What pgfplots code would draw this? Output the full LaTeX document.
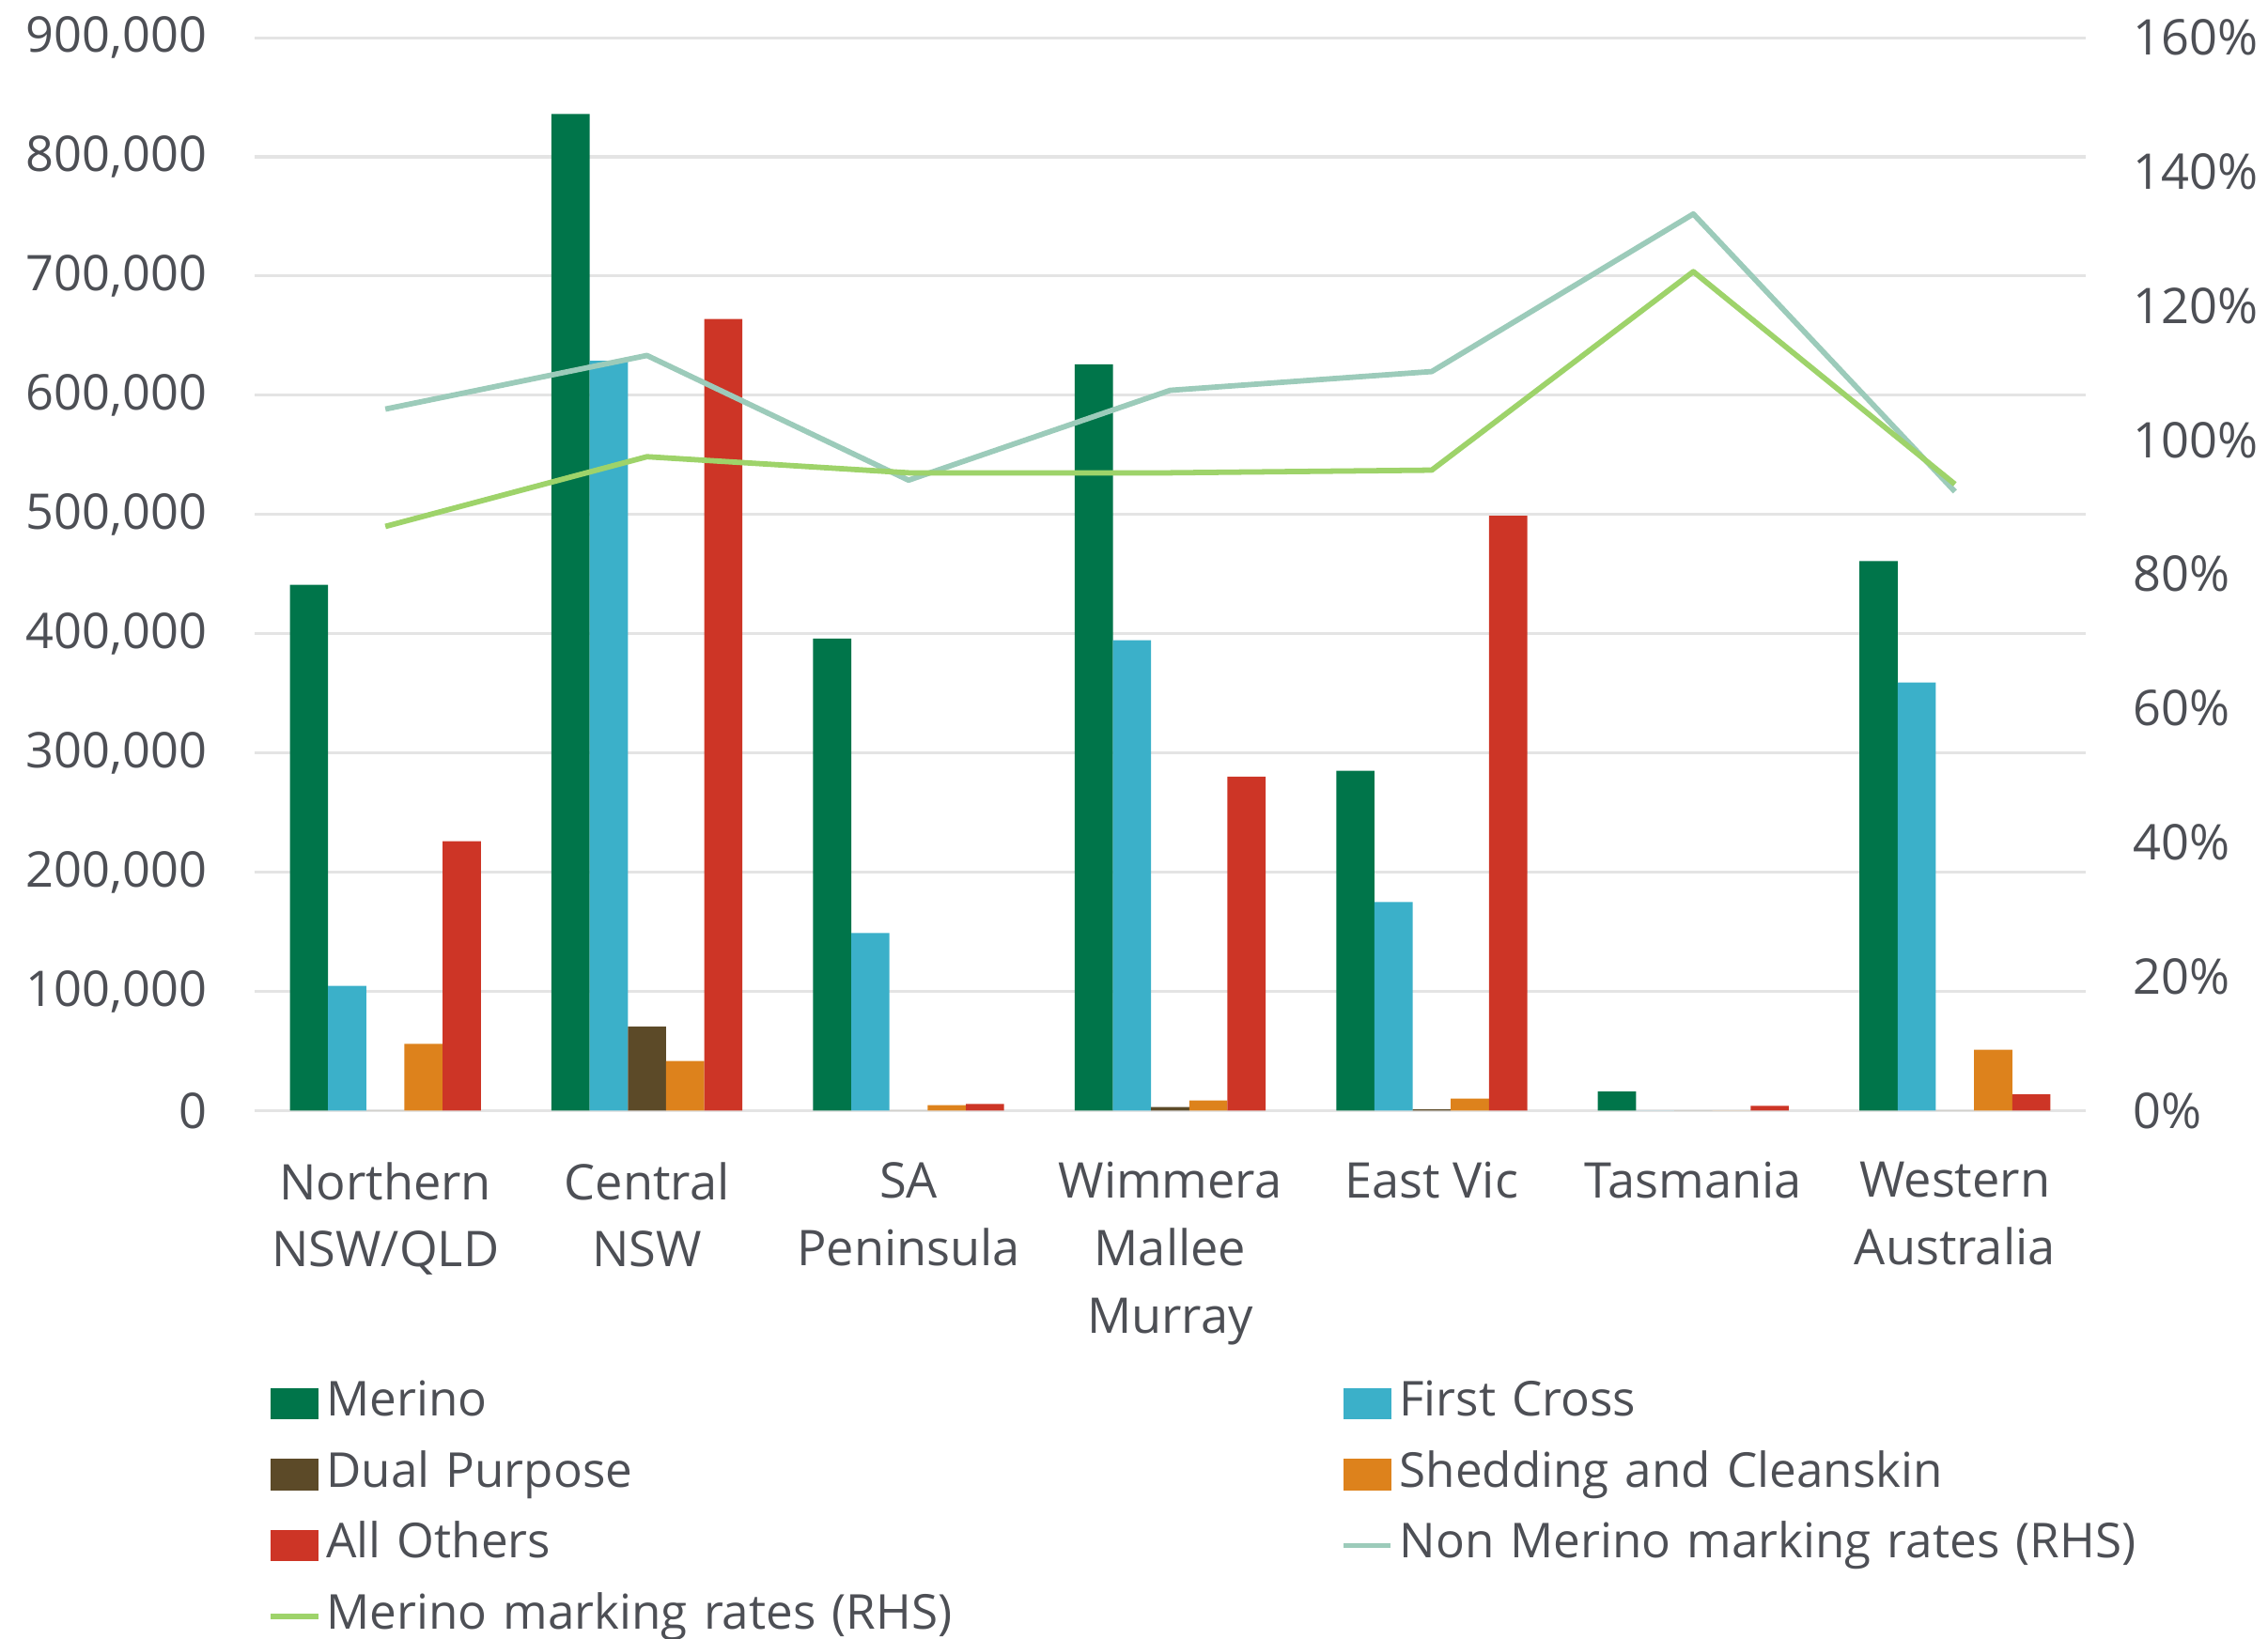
\documentclass[border=0pt]{standalone}
\usepackage{fontspec}
\setmainfont{Open Sans}
\usepackage{pgfplots}
\pgfplotsset{compat=1.18}
\definecolor{cMer}{HTML}{00754A}
\definecolor{cFC}{HTML}{3BB0C9}
\definecolor{cDual}{HTML}{5C4A28}
\definecolor{cShed}{HTML}{DD821C}
\definecolor{cOth}{HTML}{CD3526}
\definecolor{cNon}{HTML}{9CCBBA}
\definecolor{cMerL}{HTML}{9ED36A}
\definecolor{gridgray}{HTML}{E4E4E4}
\definecolor{labgray}{HTML}{4D4F55}
\begin{document}
\begin{tikzpicture}
\pgfplotsset{
  common/.style={
    width=506.4pt, height=296.8pt, scale only axis,
    at={(0,0)}, anchor=south west,
    xmin=-0.5, xmax=6.5,
    axis line style={draw=none}, tick style={draw=none}, major tick length=0pt,
    /pgf/number format/assume math mode=true,
    tick label style={font=\fontsize{13.6}{18.6}\selectfont, text=labgray},
  },
}
\begin{axis}[common,
  ymin=0, ymax=900000, ytick={0,100000,...,900000}, scaled y ticks=false,
  yticklabel style={/pgf/number format/fixed, /pgf/number format/1000 sep={,}, xshift=-9.7pt},
  ymajorgrids, grid style={draw=gridgray, line width=0.8pt},
  xtick={0,...,6},
  xticklabels={{Northern\\NSW/QLD},{Central\\NSW},{SA\\Peninsula},{Wimmera\\Mallee\\Murray},{East Vic},{Tasmania},{Western\\Australia}},
  xticklabel style={align=center, yshift=-10.8pt},
  legend columns=2,
  legend style={draw=none, fill=none, inner sep=0pt, at={(0,0)}, anchor=north west,
    xshift=3.6pt, yshift=-74.4pt, column sep=0pt, row sep=6.6pt,
    font=\fontsize{13.3}{16}\selectfont, text=labgray,
    nodes={inner sep=0pt, text height=10pt, text depth=3pt},
    /tikz/every odd column/.append style={column sep=1.6pt},
    /tikz/every even column/.append style={text width=280.6pt, align=left}},
  legend cell align=left,
]
\addplot[ybar, bar width=0.146, bar shift=-0.292, fill=cMer, draw=none, forget plot]
  coordinates {(0,441000) (1,836000) (2,396000) (3,626000) (4,285000) (5,16000) (6,461000)};
\addplot[ybar, bar width=0.146, bar shift=-0.146, fill=cFC, draw=none, forget plot]
  coordinates {(0,104500) (1,629000) (2,149000) (3,394500) (4,175000) (5,0) (6,359000)};
\addplot[ybar, bar width=0.146, bar shift=0, fill=cDual, draw=none, forget plot]
  coordinates {(0,0) (1,70500) (2,0) (3,3000) (4,1000) (5,0) (6,0)};
\addplot[ybar, bar width=0.146, bar shift=0.146, fill=cShed, draw=none, forget plot]
  coordinates {(0,56000) (1,41500) (2,4500) (3,8500) (4,10000) (5,0) (6,51000)};
\addplot[ybar, bar width=0.146, bar shift=0.292, fill=cOth, draw=none, forget plot]
  coordinates {(0,226000) (1,664000) (2,5500) (3,280000) (4,499000) (5,4000) (6,13500)};
\addlegendimage{legend image code/.code={\fill[cMer] (0pt,-4.15pt) rectangle (13pt,4.15pt);}}
\addlegendentry{Merino}
\addlegendimage{legend image code/.code={\fill[cFC] (0pt,-4.15pt) rectangle (13pt,4.15pt);}}
\addlegendentry{First Cross}
\addlegendimage{legend image code/.code={\fill[cDual] (0pt,-4.15pt) rectangle (13pt,4.15pt);}}
\addlegendentry{Dual Purpose}
\addlegendimage{legend image code/.code={\fill[cShed] (0pt,-4.15pt) rectangle (13pt,4.15pt);}}
\addlegendentry{Shedding and Cleanskin}
\addlegendimage{legend image code/.code={\fill[cOth] (0pt,-4.15pt) rectangle (13pt,4.15pt);}}
\addlegendentry{All Others}
\addlegendimage{legend image code/.code={\draw[cNon, line width=1.5pt] (0pt,0pt) -- (13pt,0pt);}}
\addlegendentry{Non Merino marking rates (RHS)}
\addlegendimage{legend image code/.code={\draw[cMerL, line width=1.5pt] (0pt,0pt) -- (13pt,0pt);}}
\addlegendentry{Merino marking rates (RHS)}
\end{axis}
\begin{axis}[common,
  axis y line*=right, axis x line=none,
  ymin=0, ymax=160, ytick={0,20,...,160},
  yticklabel={\pgfmathprintnumber{\tick}\%},
  yticklabel style={anchor=west, xshift=9.7pt},
  xtick=\empty,
]
\addplot[sharp plot, cNon, line width=1.5pt, line join=round, no markers]
  coordinates {(0,104.6) (1,112.6) (2,94.0) (3,107.4) (4,110.2) (5,133.7) (6,92.3)};
\addplot[sharp plot, cMerL, line width=1.5pt, line join=round, no markers]
  coordinates {(0,87.1) (1,97.5) (2,95.1) (3,95.1) (4,95.5) (5,125.1) (6,93.4)};
\end{axis}
\pgfresetboundingbox
\path[use as bounding box] (-70.4pt,-146pt) rectangle (556.8pt,307.2pt);
\end{tikzpicture}
\end{document}
